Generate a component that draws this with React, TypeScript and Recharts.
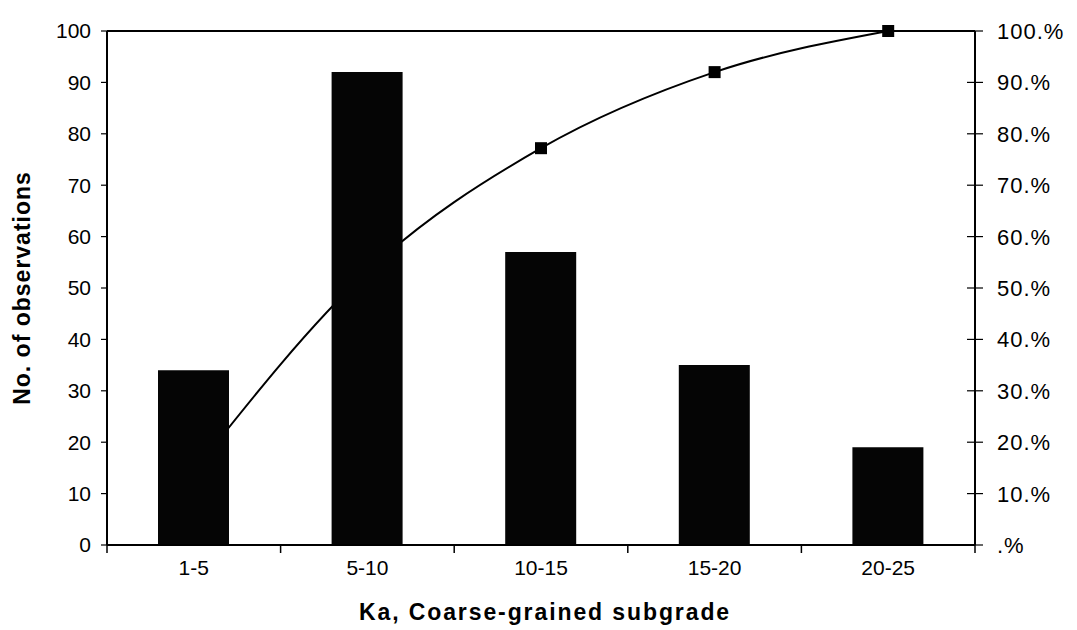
import React from 'react';
import { ComposedChart, Bar, Line, XAxis, YAxis, ReferenceLine } from 'recharts';

const categories = ['1-5', '5-10', '10-15', '15-20', '20-25'];
const observations = [34, 92, 57, 35, 19];
const cumulativePct = [14.3, 53.2, 77.2, 92.0, 100];
const leftTicks = [0, 10, 20, 30, 40, 50, 60, 70, 80, 90, 100];
const rightTicks = [0, 10, 20, 30, 40, 50, 60, 70, 80, 90, 100];

const data = categories.map((c, i) => ({ cat: c, obs: observations[i], cum: cumulativePct[i] }));

const FONT = '"Liberation Sans", Arial, Helvetica, sans-serif';
const W = 1077;
const H = 630;
const MARGIN = { top: 31, right: 0, bottom: 0, left: 0 };
const LEFT_W = 107;
const RIGHT_W = 102;
const X_H = 85;

const XTick = (props: any) => {
  const { x, y, payload, index } = props;
  const half = payload && payload.offset != null ? payload.offset : 0;
  const last = index === categories.length - 1;
  return (
    <g>
      <line x1={x - half} x2={x - half} y1={y} y2={y + 8} stroke="#000" strokeWidth={1.5} />
      {last && <line x1={x + half} x2={x + half} y1={y} y2={y + 8} stroke="#000" strokeWidth={1.5} />}
      <text x={x} y={y + 30} textAnchor="middle" fontSize={21} fontFamily={FONT} fill="#000">
        {payload.value}
      </text>
    </g>
  );
};

const RightTick = (props: any) => {
  const { x, y, payload } = props;
  const v = payload.value;
  const label = v === 0 ? '.%' : `${v}.%`;
  return (
    <g>
      <line x1={x - 8} x2={x + 8} y1={y} y2={y} stroke="#000" strokeWidth={1.2} />
      <text x={x + 22} y={y} dy="0.36em" textAnchor="start" fontSize={22} letterSpacing={1} fontFamily={FONT} fill="#000">
        {label}
      </text>
    </g>
  );
};

const YLabel = (props: any) => {
  const vb = props.viewBox || { x: 0, y: 31, width: 107, height: 514 };
  const cx = vb.x + 30;
  const cy = vb.y + vb.height / 2;
  return (
    <text
      x={cx}
      y={cy}
      transform={`rotate(-90, ${cx}, ${cy})`}
      textAnchor="middle"
      fontSize={23}
      fontWeight="bold"
      letterSpacing={1}
      fontFamily={FONT}
      fill="#000"
    >
      No. of observations
    </text>
  );
};

const XLabel = (props: any) => {
  const vb = props.viewBox || { x: 107, y: 545, width: 868, height: 85 };
  const cx = vb.x + vb.width / 2 + 4;
  const cy = vb.y + 75;
  return (
    <text
      x={cx}
      y={cy}
      textAnchor="middle"
      fontSize={23}
      fontWeight="bold"
      letterSpacing={1.9}
      fontFamily={FONT}
      fill="#000"
    >
      Ka, Coarse-grained subgrade
    </text>
  );
};

const Square = (props: any) => {
  const { cx, cy, index } = props;
  return <rect key={`sq-${index}`} x={cx - 6} y={cy - 6} width={12} height={12} fill="#000" />;
};

// Layer drawn first (behind): the cumulative line. Bars present but invisible so that the
// category scale is a band scale identical to the front layer.
function LineLayer() {
  return (
    <ComposedChart width={W} height={H} data={data} margin={MARGIN} barSize={71}>
      <XAxis dataKey="cat" xAxisId="x" height={X_H} axisLine={false} tickLine={false} tick={false} interval={0} />
      <YAxis yAxisId="left" orientation="left" width={LEFT_W} domain={[0, 100]} axisLine={false} tickLine={false} tick={false} />
      <YAxis yAxisId="right" orientation="right" width={RIGHT_W} domain={[0, 100]} axisLine={false} tickLine={false} tick={false} />
      <Bar xAxisId="x" yAxisId="left" dataKey="obs" fill="none" fillOpacity={0} isAnimationActive={false} />
      <Line
        xAxisId="x"
        yAxisId="right"
        dataKey="cum"
        type="monotone"
        stroke="#000"
        strokeWidth={2}
        dot={<Square />}
        activeDot={false}
        isAnimationActive={false}
      />
    </ComposedChart>
  );
}

// Front layer: bars and axes. The line is present but invisible so the right axis has a series.
function BarLayer() {
  return (
    <ComposedChart width={W} height={H} data={data} margin={MARGIN} barSize={71}>
      <XAxis
        dataKey="cat"
        xAxisId="x"
        height={X_H}
        axisLine={{ stroke: '#000', strokeWidth: 2 }}
        tickLine={false}
        tickSize={0}
        tickMargin={0}
        tick={<XTick />}
        interval={0}
        label={<XLabel />}
      />
      <YAxis
        yAxisId="left"
        orientation="left"
        width={LEFT_W}
        domain={[0, 100]}
        ticks={leftTicks}
        interval={0}
        axisLine={{ stroke: '#000', strokeWidth: 2 }}
        tickLine={{ stroke: '#000', strokeWidth: 1.2 }}
        tickSize={6}
        tickMargin={10}
        tick={{ fontSize: 21, fontFamily: FONT, fill: '#000' }}
        label={<YLabel />}
      />
      <YAxis
        yAxisId="right"
        orientation="right"
        width={RIGHT_W}
        domain={[0, 100]}
        ticks={rightTicks}
        interval={0}
        axisLine={{ stroke: '#000', strokeWidth: 2 }}
        tickLine={false}
        tickSize={0}
        tickMargin={0}
        tick={<RightTick />}
      />
      <ReferenceLine yAxisId="left" xAxisId="x" y={100} stroke="#000" strokeWidth={2} />
      <Line
        xAxisId="x"
        yAxisId="right"
        dataKey="cum"
        type="monotone"
        stroke="none"
        strokeOpacity={0}
        dot={false}
        activeDot={false}
        isAnimationActive={false}
      />
      <Bar xAxisId="x" yAxisId="left" dataKey="obs" fill="#050505" isAnimationActive={false} />
    </ComposedChart>
  );
}

export default function App() {
  return (
    <div style={{ position: 'absolute', left: 0, top: 0, width: W, height: H, background: '#fff' }}>
      <div style={{ position: 'absolute', left: 0, top: 0 }}>
        <LineLayer />
      </div>
      <div style={{ position: 'absolute', left: 0, top: 0 }}>
        <BarLayer />
      </div>
    </div>
  );
}
